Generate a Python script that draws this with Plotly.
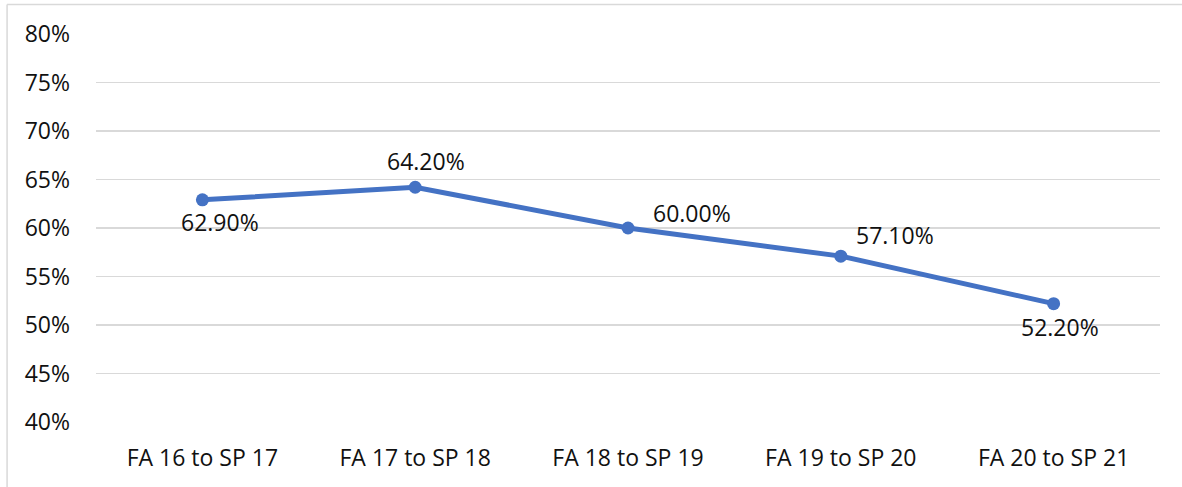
import plotly.graph_objects as go

terms = ["FA 16 to SP 17", "FA 17 to SP 18", "FA 18 to SP 19", "FA 19 to SP 20", "FA 20 to SP 21"]
rates = [0.629, 0.642, 0.600, 0.571, 0.522]
labels = ["62.90%", "64.20%", "60.00%", "57.10%", "52.20%"]

# label offsets in pixels, relative to each point
shifts = [(18, -22), (11, 26), (64, 15), (54, 21), (6, -23)]

FONT = "Open Sans"
FS = 23
W, H = 1182, 487
L, R, T, B = 95.5, 21.5, 34, 65

fig = go.Figure()
fig.add_trace(
    go.Scatter(
        x=terms,
        y=rates,
        mode="lines+markers",
        line=dict(color="#4472C4", width=5),
        marker=dict(color="#4472C4", size=13),
        showlegend=False,
        hoverinfo="skip",
    )
)

annotations = []
for t, v, lab, (dx, dy) in zip(terms, rates, labels, shifts):
    annotations.append(
        dict(
            x=t,
            y=v,
            text=lab,
            showarrow=False,
            xshift=dx,
            yshift=dy,
            font=dict(family=FONT, size=FS, color="#111111"),
        )
    )

# thin frame around chart (top and left edges visible)
pw = W - L - R
ph = H - T - B
x0 = (6.5 - L) / pw
y0 = (H - B - 4.5) / ph
shapes = [
    dict(type="line", xref="paper", yref="paper", x0=x0, x1=1.2, y0=y0, y1=y0,
         line=dict(color="#d9d9d9", width=1.5)),
    dict(type="line", xref="paper", yref="paper", x0=x0, x1=x0, y0=y0, y1=-0.3,
         line=dict(color="#d9d9d9", width=1.5)),
]

fig.update_layout(
    width=W,
    height=H,
    margin=dict(l=L, r=R, t=T, b=B, pad=0),
    paper_bgcolor="white",
    plot_bgcolor="white",
    annotations=annotations,
    shapes=shapes,
    font=dict(family=FONT, size=FS, color="#111111"),
)
fig.update_xaxes(
    type="category",
    range=[-0.5, len(terms) - 0.5],
    showgrid=False,
    showline=False,
    zeroline=False,
    ticks="",
    ticklabelstandoff=20,
    tickfont=dict(family=FONT, size=FS, color="#111111"),
)
fig.update_yaxes(
    range=[0.40, 0.80],
    dtick=0.05,
    tick0=0.40,
    tickformat=".0%",
    showgrid=True,
    gridcolor="#d9d9d9",
    gridwidth=1.5,
    zeroline=False,
    showline=False,
    ticks="",
    ticklabelstandoff=25,
    tickfont=dict(family=FONT, size=FS, color="#111111"),
)

# drop the default page margin so the figure sits at the window corner
fig.write_html(
    "out.html",
    config={"displayModeBar": False, "staticPlot": True},
    post_script="document.body.style.margin='0px';",
)
